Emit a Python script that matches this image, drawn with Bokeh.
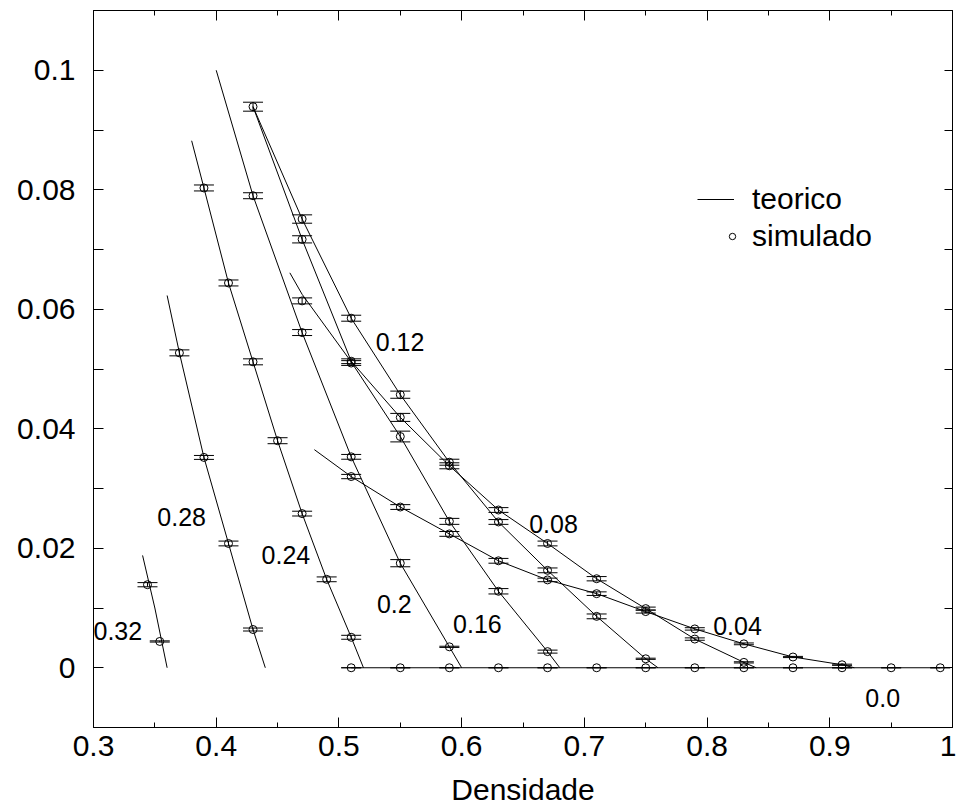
from bokeh.plotting import figure
from bokeh.models import (LinearAxis, FixedTicker, ColumnDataSource, Whisker, TeeHead,
                          Legend, LegendItem, CustomJSTickFormatter)
from bokeh.core.properties import value
from bokeh.embed import file_html
from bokeh.resources import INLINE

FONT = "Liberation Sans"

# ---------------- data ----------------
labels = ["0.32", "0.28", "0.24", "0.2", "0.16", "0.12", "0.08", "0.04", "0.0"]

# theoretical curves
t032_x = [0.340, 0.350, 0.360]
t032_y = [0.0188, 0.0100, 0.0]
t028_x = [0.36, 0.37, 0.39, 0.41, 0.43, 0.44]
t028_y = [0.0623, 0.0527, 0.0352, 0.0208, 0.0064, 0.0]
t024_x = [0.38, 0.39, 0.41, 0.43, 0.45, 0.47, 0.49, 0.51, 0.52]
t024_y = [0.0882, 0.0803, 0.0644, 0.0512, 0.0380, 0.0258, 0.0148, 0.0051, 0.0]
t020_x = [0.40, 0.43, 0.47, 0.51, 0.55, 0.59, 0.60]
t020_y = [0.1000, 0.0790, 0.0561, 0.0353, 0.0175, 0.0035, 0.0]
t016_x = [0.46, 0.47, 0.51, 0.55, 0.59, 0.63, 0.67, 0.68]
t016_y = [0.0661, 0.0625, 0.0512, 0.0387, 0.0245, 0.0128, 0.0027, 0.0]
t012_x = [0.43, 0.47, 0.51, 0.55, 0.59, 0.63, 0.67, 0.71, 0.75, 0.76]
t012_y = [0.0939, 0.0751, 0.0585, 0.0457, 0.0344, 0.0244, 0.0163, 0.0086, 0.0015, 0.0]
t008_x = [0.43, 0.47, 0.51, 0.55, 0.59, 0.63, 0.67, 0.71, 0.75, 0.79, 0.83, 0.84]
t008_y = [0.0939, 0.0717, 0.0513, 0.0419, 0.0338, 0.0264, 0.0208, 0.0149, 0.0099, 0.0048, 0.0009, 0.0]
t004_x = [0.48, 0.51, 0.55, 0.59, 0.63, 0.67, 0.71, 0.75, 0.79, 0.83, 0.87, 0.91, 0.92]
t004_y = [0.0365, 0.0320, 0.0269, 0.0224, 0.0179, 0.0147, 0.0124, 0.0094, 0.0065, 0.0040, 0.0018, 0.0005, 0.0]
t000_x = [0.51, 0.99]
t000_y = [0.0, 0.0]

# simulated points with error (half height of the error bar)
s032_x = [0.344, 0.354]
s032_y = [0.0139, 0.0044]
s032_e = [0.00035, 0.0001]
s028_x = [0.37, 0.39, 0.41, 0.43]
s028_y = [0.0527, 0.0352, 0.0208, 0.0064]
s028_e = [0.0005, 0.00033, 0.0004, 0.00025]
s024_x = [0.39, 0.41, 0.43, 0.45, 0.47, 0.49, 0.51]
s024_y = [0.0803, 0.0644, 0.0512, 0.0380, 0.0258, 0.0148, 0.0051]
s024_e = [0.0005, 0.0005, 0.0005, 0.0005, 0.0004, 0.0004, 0.00033]
s020_x = [0.43, 0.47, 0.51, 0.55, 0.59]
s020_y = [0.0790, 0.0561, 0.0353, 0.0175, 0.0035]
s020_e = [0.0005, 0.0005, 0.0004, 0.0006, 0.0001]
s016_x = [0.47, 0.51, 0.55, 0.59, 0.63, 0.67]
s016_y = [0.0614, 0.0510, 0.0387, 0.0245, 0.0128, 0.0027]
s016_e = [0.0005, 0.0004, 0.0009, 0.0005, 0.00045, 0.00025]
s012_x = [0.43, 0.47, 0.51, 0.55, 0.59, 0.63, 0.67, 0.71, 0.75]
s012_y = [0.0939, 0.0751, 0.0585, 0.0457, 0.0344, 0.0244, 0.0163, 0.0086, 0.0015]
s012_e = [0.00075, 0.0007, 0.0005, 0.0006, 0.0005, 0.0004, 0.0004, 0.0004, 0.0001]
s008_x = [0.47, 0.51, 0.55, 0.59, 0.63, 0.67, 0.71, 0.75, 0.79, 0.83]
s008_y = [0.0717, 0.0513, 0.0419, 0.0338, 0.0264, 0.0208, 0.0149, 0.0099, 0.0048, 0.0009]
s008_e = [0.0006, 0.0004, 0.00067, 0.0005, 0.0004, 0.0004, 0.00036, 0.00025, 0.0002, 0.0001]
s004_x = [0.51, 0.55, 0.59, 0.63, 0.67, 0.71, 0.75, 0.79, 0.83, 0.87, 0.91]
s004_y = [0.0320, 0.0269, 0.0224, 0.0179, 0.0147, 0.0124, 0.0094, 0.0065, 0.0040, 0.0018, 0.0005]
s004_e = [0.00036, 0.0004, 0.0004, 0.0004, 0.0003, 0.0003, 0.00025, 0.0002, 0.00015, 0.0001, 0.0001]
s000_x = [0.51, 0.55, 0.59, 0.63, 0.67, 0.71, 0.75, 0.79, 0.83, 0.87, 0.91, 0.95, 0.99]
s000_y = [0.0] * 13
s000_e = [0.0] * 13

# curve labels
lab_text = ["0.32", "0.28", "0.24", "0.2", "0.16", "0.12", "0.08", "0.04", "0.0"]
lab_x = [0.300, 0.352, 0.437, 0.531, 0.593, 0.530, 0.655, 0.805, 0.929]
lab_y = [0.0061, 0.0253, 0.0188, 0.0106, 0.0074, 0.0545, 0.0241, 0.0070, -0.0050]

# axes
x_ticks = [0.3, 0.4, 0.5, 0.6, 0.7, 0.8, 0.9, 1.0]
x_minor = [0.35, 0.45, 0.55, 0.65, 0.75, 0.85, 0.95]
y_ticks = [0.0, 0.02, 0.04, 0.06, 0.08, 0.1]
y_minor = [0.01, 0.03, 0.05, 0.07, 0.09]
x_label = "Densidade"

theory = [(t032_x, t032_y), (t028_x, t028_y), (t024_x, t024_y), (t020_x, t020_y),
          (t016_x, t016_y), (t012_x, t012_y), (t008_x, t008_y), (t004_x, t004_y),
          (t000_x, t000_y)]
sims = [(s032_x, s032_y, s032_e), (s028_x, s028_y, s028_e), (s024_x, s024_y, s024_e),
        (s020_x, s020_y, s020_e), (s016_x, s016_y, s016_e), (s012_x, s012_y, s012_e),
        (s008_x, s008_y, s008_e), (s004_x, s004_y, s004_e), (s000_x, s000_y, s000_e)]

# ---------------- figure ----------------
p = figure(width=956, height=808, x_range=(0.3, 1.0), y_range=(-0.01, 0.11),
           output_backend="svg", toolbar_location=None,
           min_border_left=93, min_border_right=4, min_border_top=10, min_border_bottom=81)
p.grid.visible = False
p.background_fill_color = "white"
p.outline_line_color = "black"
p.outline_line_width = 1

xt = FixedTicker(ticks=x_ticks, minor_ticks=x_minor)
yt = FixedTicker(ticks=y_ticks, minor_ticks=y_minor)
xfmt = CustomJSTickFormatter(code="return (tick > 0.999) ? '1' : tick.toFixed(1);")
yfmt = CustomJSTickFormatter(code="""
if (Math.abs(tick) < 1e-9) return '0';
if (Math.abs(tick - 0.1) < 1e-9) return '0.1';
return tick.toFixed(2);""")
blank = CustomJSTickFormatter(code="return '';")

def style_axis(ax, minor_len):
    ax.axis_line_color = "black"
    ax.major_tick_line_color = "black"
    ax.minor_tick_line_color = "black"
    ax.major_tick_in = 10
    ax.major_tick_out = 0
    ax.minor_tick_in = minor_len
    ax.minor_tick_out = 0

xa = p.xaxis[0]
xa.ticker = xt
xa.formatter = xfmt
style_axis(xa, 5)
xa.major_label_text_font = FONT
xa.major_label_text_font_size = "30px"
xa.major_label_text_color = "black"
xa.major_label_standoff = 8
xa.axis_label = x_label
xa.axis_label_text_font = FONT
xa.axis_label_text_font_size = "30px"
xa.axis_label_text_font_style = "normal"
xa.axis_label_text_color = "black"
xa.axis_label_standoff = 14

ya = p.yaxis[0]
ya.ticker = yt
ya.formatter = yfmt
style_axis(ya, 10)
ya.major_label_text_font = FONT
ya.major_label_text_font_size = "30px"
ya.major_label_text_color = "black"
ya.major_label_standoff = 18

top = LinearAxis(ticker=FixedTicker(ticks=x_ticks, minor_ticks=x_minor), formatter=blank,
                 major_label_text_font_size="1px", major_label_standoff=0)
style_axis(top, 5)
p.add_layout(top, "above")
right = LinearAxis(ticker=FixedTicker(ticks=y_ticks, minor_ticks=y_minor), formatter=blank,
                   major_label_text_font_size="1px", major_label_standoff=0)
style_axis(right, 10)
right.major_tick_in = 8
right.minor_tick_in = 8
p.add_layout(right, "right")

line_r = None
for tx, ty in theory:
    line_r = p.line(tx, ty, line_color="black", line_width=1)

scat_r = None
for sx, sy, se in sims:
    src = ColumnDataSource(dict(x=sx, y=sy,
                                lower=[a - b for a, b in zip(sy, se)],
                                upper=[a + b for a, b in zip(sy, se)]))
    w = Whisker(source=src, base="x", lower="lower", upper="upper", dimension="height",
                line_color="black", line_width=1,
                upper_head=TeeHead(size=20, line_color="black", line_width=1),
                lower_head=TeeHead(size=20, line_color="black", line_width=1))
    p.add_layout(w)
    scat_r = p.scatter("x", "y", source=src, marker="circle", size=8,
                       fill_color=None, line_color="black", line_width=1)

p.text(x=lab_x, y=lab_y, text=lab_text, text_font=value(FONT), text_font_size="25px",
       text_baseline="alphabetic", text_align="left", text_color="black")

leg1 = Legend(items=[LegendItem(label="teorico", renderers=[line_r])],
              location=(604, 511), glyph_width=37, glyph_height=30, label_height=30,
              label_standoff=18, padding=0, margin=0, spacing=0,
              border_line_alpha=0, background_fill_alpha=0,
              label_text_font=FONT, label_text_font_size="30px", label_text_color="black")
leg2 = Legend(items=[LegendItem(label="simulado", renderers=[scat_r])],
              location=(631, 474), glyph_width=16, glyph_height=30, label_height=30,
              label_standoff=12, padding=0, margin=0, spacing=0,
              border_line_alpha=0, background_fill_alpha=0,
              label_text_font=FONT, label_text_font_size="30px", label_text_color="black")
p.add_layout(leg1)
p.add_layout(leg2)

open("out.html", "w").write(file_html(p, INLINE))
